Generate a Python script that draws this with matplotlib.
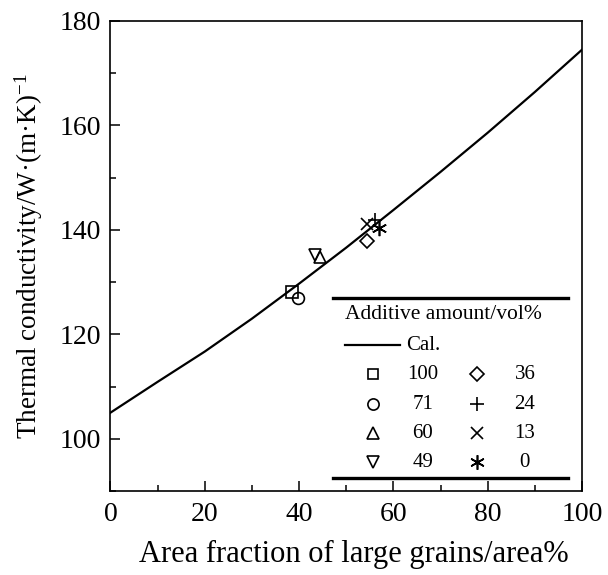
import matplotlib
matplotlib.use("Agg")
import matplotlib.pyplot as plt
from matplotlib.ticker import MultipleLocator

plt.rcParams['font.family'] = ['Liberation Serif', 'DejaVu Serif']
plt.rcParams['mathtext.fontset'] = 'custom'
plt.rcParams['mathtext.rm'] = 'Liberation Serif'
plt.rcParams['mathtext.it'] = 'Liberation Serif:italic'

# calculated curve
cal_x = [0, 10, 20, 30, 40, 50, 60, 70, 80, 90, 100]
cal_y = [105.0, 110.9, 116.7, 123.0, 129.7, 136.6, 143.8, 151.1, 158.6, 166.4, 174.5]

# measured points
additive = ['100', '71', '60', '49', '36', '24', '13', '0']
area_frac = [38.6, 39.8, 44.5, 43.3, 54.5, 56.2, 54.4, 56.9]
kappa = [128.2, 126.9, 134.8, 135.2, 137.8, 141.8, 141.2, 140.3]

markers = ['s', 'o', '^', 'v', 'D', '+', 'x', (6, 2, 0)]
msizes = [8, 8.5, 8.5, 8.5, 7, 10, 9, 11]

fig = plt.figure(figsize=(6.08, 5.75), dpi=100)
ax = fig.add_axes([0.1817, 0.1461, 0.7755, 0.8174])

ax.plot(cal_x, cal_y, color='black', lw=1.6)
for i in range(len(additive)):
    ax.plot(area_frac[i], kappa[i], linestyle='none', marker=markers[i],
            ms=msizes[i], mfc='none', mec='black', mew=1.2)

ax.set_xlim(0, 100)
ax.set_ylim(90, 180)
ax.xaxis.set_major_locator(MultipleLocator(20))
ax.xaxis.set_minor_locator(MultipleLocator(10))
ax.yaxis.set_major_locator(MultipleLocator(20))
ax.yaxis.set_minor_locator(MultipleLocator(10))
ax.tick_params(which='both', direction='in', top=False, right=False,
               labelsize=20, width=1.1)
ax.tick_params(axis='x', pad=8)
ax.tick_params(axis='y', pad=7)
ax.tick_params(which='major', length=7)
ax.tick_params(which='minor', length=4)
for s in ax.spines.values():
    s.set_linewidth(1.2)

ax.set_xlabel('Area fraction of large grains/area%', fontsize=22, labelpad=10)
ax.xaxis.set_label_coords(0.516, -0.105)
ax.set_ylabel('Thermal conductivity/W·(m·K)$^{-1}$', fontsize=19.5, labelpad=10)

# hand-made legend box
tr = ax.transAxes
ax.plot([0.472, 0.970], [0.410, 0.410], color='black', lw=2.4, transform=tr, clip_on=False)
ax.plot([0.472, 0.970], [0.028, 0.028], color='black', lw=2.4, transform=tr, clip_on=False)
ax.text(0.497, 0.3745, 'Additive amount/vol%', transform=tr, fontsize=15.5,
        ha='left', va='center')
ax.plot([0.497, 0.614], [0.3106, 0.3106], color='black', lw=1.6, transform=tr)
ax.text(0.627, 0.3106, 'Cal.', transform=tr, fontsize=15, ha='left', va='center')

row_y = [0.2483, 0.1845, 0.1228, 0.0611]
for i in range(len(additive)):
    col = i // 4
    yy = row_y[i % 4]
    mx = 0.557 if col == 0 else 0.777
    lx = 0.662 if col == 0 else 0.879
    ax.plot(mx, yy, linestyle='none', marker=markers[i], ms=msizes[i] * 0.95,
            mfc='none', mec='black', mew=1.2, transform=tr)
    ax.text(lx, yy, additive[i], transform=tr, fontsize=15, ha='center', va='center')

fig.savefig('out.png', dpi=100)
